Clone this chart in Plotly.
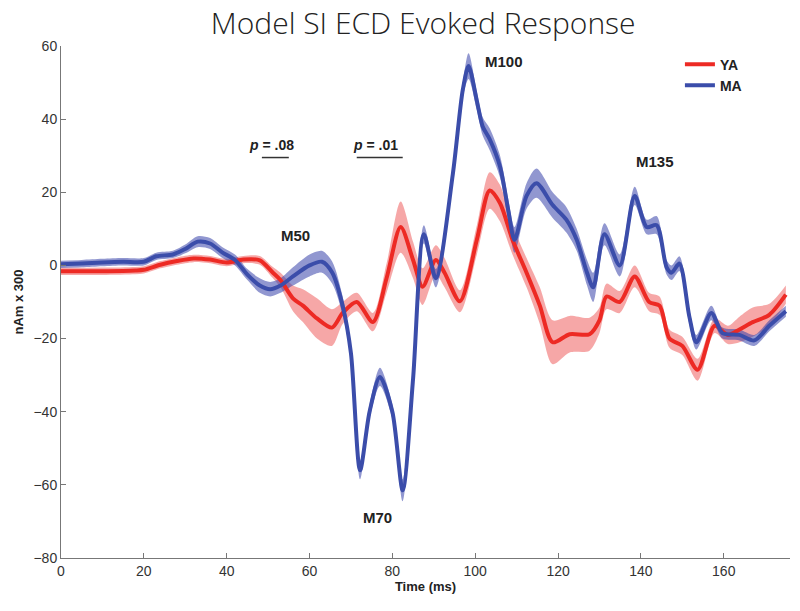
import plotly.graph_objects as go

# ---------------- data ----------------
ma_t = [0, 5, 10, 15, 20, 23, 27, 30, 33, 36, 39, 42, 45, 48, 50.5, 53, 56, 60, 63, 65.5,
        68, 70, 72.2, 74.5, 77, 80, 82.5, 85, 87.6, 90.5, 94.6, 97, 98.4, 100.4, 101.8,
        103.5, 106, 108, 109.5, 112.4, 114.8, 118.7, 122, 124.5, 127, 128.5, 131.2, 134.9,
        138.5, 141.4, 143.8, 146.2, 147.4, 149.3, 151.7, 153.4, 157, 159.7, 163.8, 167.4,
        171, 175]
ma_mean = [0.3, 0.5, 0.8, 1.0, 1.0, 2.5, 3.0, 4.5, 6.5, 6.0, 3.5, 1.5, -2.5, -5.5, -6.5,
           -5.5, -3, 0, 1.0, -2, -11, -24, -56, -40, -30.5, -40, -61.5, -31, 8.5, -3.5,
           25, 48, 54.5, 45, 38, 34.5, 27, 15, 7, 19, 22.5, 16.5, 12.5, 7, -2, -6, 8.5, 0,
           19, 10.5, 11, -0.5, -2, 0.5, -14, -21, -13, -18.5, -19, -20.5, -16.5, -12.5]
ma_sem = [1.0, 1.0, 1.0, 1.0, 1.0, 1.0, 1.0, 1.2, 1.5, 1.5, 1.5, 1.5, 1.5, 2.0, 2.0, 2.0,
          2.5, 3.0, 3.0, 3.0, 2.5, 2.0, 2.5, 2.0, 2.5, 2.0, 3.0, 2.0, 2.5, 2.5, 2.0, 2.0,
          3.5, 2.5, 2.5, 3.0, 3.0, 3.0, 3.5, 3.5, 4.0, 3.5, 3.5, 3.0, 3.5, 4.0, 3.0, 3.0,
          2.5, 2.0, 2.5, 2.0, 2.0, 2.0, 2.0, 2.0, 2.0, 1.5, 1.5, 1.5, 1.5, 1.5]

ya_t = [0, 10, 18, 20, 24, 28, 32, 36, 40, 44, 48, 51, 53, 56, 58.4, 61.8, 65.4, 68, 71.4,
        75.3, 78.6, 82, 85, 87.3, 90.5, 92.6, 96.3, 100.4, 103.5, 106, 109, 112.4, 115.6,
        118.7, 122.8, 127.6, 130, 131.7, 134.9, 138.5, 142, 144.5, 146.9, 150, 153.7,
        157.8, 161, 163.8, 167, 171, 175]
ya_mean = [-1.6, -1.6, -1.4, -1.2, 0.2, 1.2, 1.9, 1.6, 0.8, 1.6, 1.4, -1.8, -4, -9, -11,
           -14.5, -17, -13, -10, -15.5, -3.5, 10.5, 1.5, -5.8, 1.5, -2, -9.8, 7, 20.5, 17,
           7, -2, -11, -21, -18.8, -18.8, -15, -8.5, -10, -3, -10, -11, -20, -22, -28.5,
           -16.5, -19, -17.5, -15.5, -13.5, -8]
ya_sem = [1.0, 1.0, 1.0, 1.0, 1.0, 1.0, 1.0, 1.0, 1.0, 1.0, 1.2, 1.5, 2.0, 3.5, 4.5, 5.5,
          5.0, 3.0, 2.5, 2.5, 4.0, 7.0, 5.0, 5.0, 4.0, 4.0, 3.0, 4.0, 5.0, 5.0, 4.0, 4.0,
          5.0, 6.0, 5.0, 4.5, 3.5, 3.5, 3.0, 3.0, 2.5, 2.5, 2.5, 2.5, 3.0, 2.0, 2.5, 3.5,
          4.0, 3.0, 2.5]

peak_labels = ["M50", "M70", "M100", "M135"]
peak_x = [56.7, 76.5, 107.0, 143.3]
peak_y = [8.2, -68.8, 55.7, 28.4]

p_labels = ["<i>p</i> = .08", "<i>p</i> = .01"]
sig_start = [48.5, 71.4]
sig_end = [55.0, 82.5]
sig_y = 29.5

x_ticks = [0, 20, 40, 60, 80, 100, 120, 140, 160]
y_ticks = [-80, -60, -40, -20, 0, 20, 40, 60]

# ---------------- figure ----------------
RED = "#ED2A24"
BLUE = "#3B4DAA"
RED_BAND = "rgba(236, 60, 60, 0.45)"
BLUE_BAND = "rgba(55, 65, 170, 0.55)"
FONT = "Liberation Sans, Arial"

fig = go.Figure()


def add_band(t, m, s, color):
    lo = [a - b for a, b in zip(m, s)]
    hi = [a + b for a, b in zip(m, s)]
    fig.add_trace(go.Scatter(x=t, y=lo, mode="lines", line=dict(width=0, shape="spline", smoothing=0.8),
                             showlegend=False, hoverinfo="skip"))
    fig.add_trace(go.Scatter(x=t, y=hi, mode="lines", line=dict(width=0, shape="spline", smoothing=0.8),
                             fill="tonexty", fillcolor=color, showlegend=False, hoverinfo="skip"))


add_band(ya_t, ya_mean, ya_sem, RED_BAND)
add_band(ma_t, ma_mean, ma_sem, BLUE_BAND)

fig.add_trace(go.Scatter(x=ya_t, y=ya_mean, mode="lines", name="YA",
                         line=dict(color=RED, width=4, shape="spline", smoothing=0.8)))
fig.add_trace(go.Scatter(x=ma_t, y=ma_mean, mode="lines", name="MA",
                         line=dict(color=BLUE, width=4, shape="spline", smoothing=0.8)))

for lab, px, py in zip(peak_labels, peak_x, peak_y):
    fig.add_annotation(x=px, y=py, text="<b>%s</b>" % lab, showarrow=False,
                       font=dict(family=FONT, size=15, color="#222"))

for lab, a, b in zip(p_labels, sig_start, sig_end):
    fig.add_annotation(x=(a + b) / 2 - 1.0, y=sig_y + 3.4, text="<b>%s</b>" % lab, showarrow=False,
                       font=dict(family=FONT, size=14, color="#222"))
    fig.add_shape(type="line", x0=a, x1=b, y0=sig_y, y1=sig_y,
                  line=dict(color="#333", width=1.5))

fig.update_layout(
    width=800, height=611,
    margin=dict(l=61, r=10, t=46, b=53, autoexpand=False),
    paper_bgcolor="white", plot_bgcolor="white",
    title=dict(text="Model SI ECD Evoked Response", x=0.529, xanchor="center", y=0.962, yanchor="middle",
               font=dict(family="Open Sans", size=30, color="#222", weight=300)),
    legend=dict(x=0.849, y=0.995, xanchor="left", yanchor="top", bgcolor="rgba(0,0,0,0)",
                traceorder="normal",
                font=dict(family=FONT, size=14, color="#222", weight="bold"),
                tracegroupgap=0, itemwidth=30),
    showlegend=True,
)
fig.update_xaxes(range=[0, 176], tickvals=x_ticks, ticks="inside", ticklen=5, tickcolor="#777",
                 showline=True, linecolor="#777", linewidth=1, showgrid=False, zeroline=False,
                 mirror=False, automargin=False,
                 tickfont=dict(family=FONT, size=14, color="#333"),
                 title=dict(text="<b>Time (ms)</b>", standoff=2,
                            font=dict(family=FONT, size=13, color="#222")))
fig.update_yaxes(range=[-80, 60], tickvals=y_ticks, ticks="inside", ticklen=5, tickcolor="#777",
                 showline=True, linecolor="#777", linewidth=1, showgrid=False, zeroline=False,
                 mirror=False, automargin=False,
                 tickfont=dict(family=FONT, size=14, color="#333"),
                 title=dict(text="<b>nAm x 300</b>", standoff=6,
                            font=dict(family=FONT, size=13, color="#222")))

fig.write_html("out.html", config={"displayModeBar": False},
               post_script="document.body.style.margin='0';")
